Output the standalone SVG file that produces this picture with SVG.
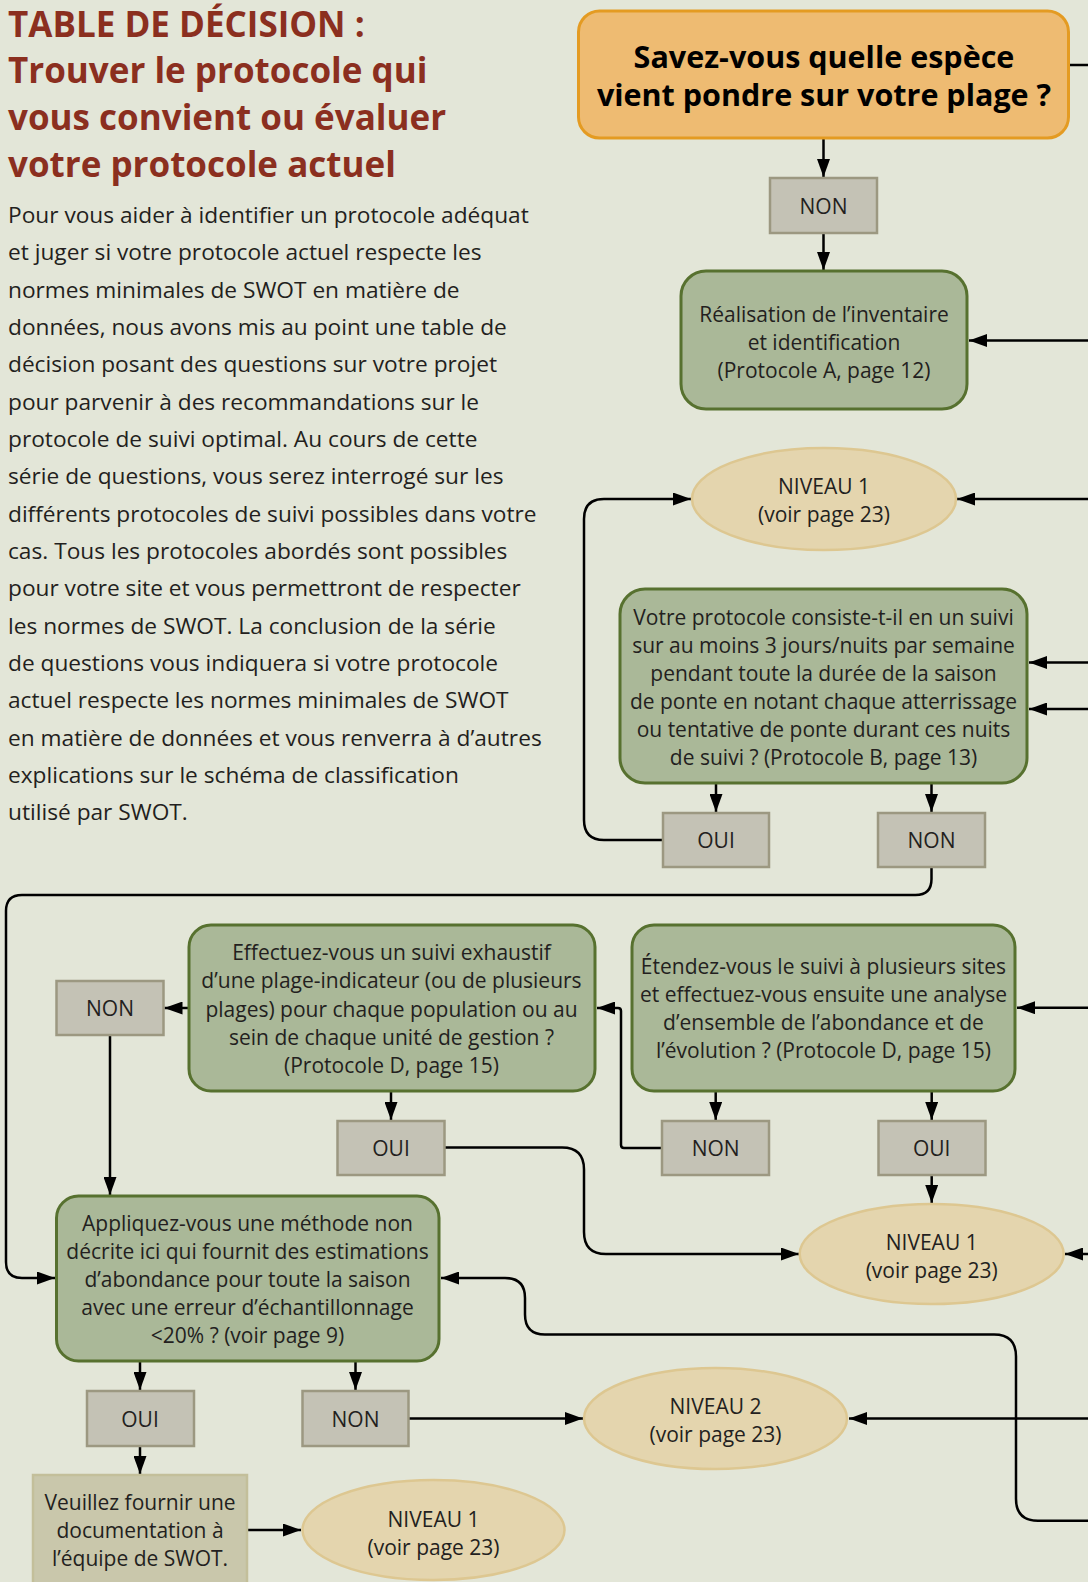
<svg xmlns="http://www.w3.org/2000/svg" width="1088" height="1582" viewBox="0 0 1088 1582">
<defs>
<marker id="ah" markerUnits="userSpaceOnUse" markerWidth="18" markerHeight="13" refX="18" refY="6.5" orient="auto"><path d="M0,0 L18,6.5 L0,13 z" fill="#000"/></marker>
<style>
.title{font-family:"Open Sans","Noto Sans",sans-serif;font-weight:700;font-size:35px;fill:#8B2F1F}
.para{font-family:"Open Sans","Noto Sans",sans-serif;font-size:22.7px;fill:#231F20}
.t{font-family:"Open Sans","Noto Sans",sans-serif;font-size:21px;fill:#231F20;text-anchor:middle}
.tb{font-family:"Open Sans","Noto Sans",sans-serif;font-weight:700;font-size:30.5px;fill:#000;text-anchor:middle}
.orange{fill:#EEBB72;stroke:#E49B22;stroke-width:3}
.green{fill:#AAB898;stroke:#57712F;stroke-width:3}
.grey{fill:#C4C2B5;stroke:#9C9881;stroke-width:2.5}
.level{fill:#E4D5AE;stroke:#DDC791;stroke-width:2.5}
.doc{fill:#C9C7AB;stroke:#C3BF9A;stroke-width:2.5}
.c{fill:none;stroke:#000;stroke-width:2.5}
.a{marker-end:url(#ah)}
</style>
</defs>
<rect x="0" y="0" width="1088" height="1582" fill="#E3E6D8"/>

<g id="heading">
<text class="title" x="8" y="36.7">TABLE DE DÉCISION :</text>
<text class="title" x="8" y="83.3">Trouver le protocole qui</text>
<text class="title" x="8" y="130">vous convient ou évaluer</text>
<text class="title" x="8" y="176.5">votre protocole actuel</text>
</g>

<g id="intro">
<text class="para" x="8" y="223">Pour vous aider à identifier un protocole adéquat</text>
<text class="para" x="8" y="260.3">et juger si votre protocole actuel respecte les</text>
<text class="para" x="8" y="297.7">normes minimales de SWOT en matière de</text>
<text class="para" x="8" y="335">données, nous avons mis au point une table de</text>
<text class="para" x="8" y="372.4">décision posant des questions sur votre projet</text>
<text class="para" x="8" y="409.7">pour parvenir à des recommandations sur le</text>
<text class="para" x="8" y="447">protocole de suivi optimal. Au cours de cette</text>
<text class="para" x="8" y="484.4">série de questions, vous serez interrogé sur les</text>
<text class="para" x="8" y="521.7">différents protocoles de suivi possibles dans votre</text>
<text class="para" x="8" y="559.1">cas. Tous les protocoles abordés sont possibles</text>
<text class="para" x="8" y="596.4">pour votre site et vous permettront de respecter</text>
<text class="para" x="8" y="633.7">les normes de SWOT. La conclusion de la série</text>
<text class="para" x="8" y="671.1">de questions vous indiquera si votre protocole</text>
<text class="para" x="8" y="708.4">actuel respecte les normes minimales de SWOT</text>
<text class="para" x="8" y="745.8">en matière de données et vous renverra à d’autres</text>
<text class="para" x="8" y="783.1">explications sur le schéma de classification</text>
<text class="para" x="8" y="820.4">utilisé par SWOT.</text>
</g>

<g id="connectors">
<path class="c" d="M1069,65 H1088"/>
<path class="c a" d="M823.5,138 V177"/>
<path class="c a" d="M823.5,233 V270"/>
<path class="c a" d="M1088,340.5 H969"/>
<path class="c a" d="M1088,499 H957"/>
<path class="c a" d="M663,840 H604 Q584,840 584,820 V519 Q584,499 604,499 H691"/>
<path class="c a" d="M1088,662.5 H1029"/>
<path class="c a" d="M1088,709 H1029"/>
<path class="c a" d="M716,783 V812"/>
<path class="c a" d="M931.5,783 V812"/>
<path class="c a" d="M931.5,867 V879 Q931.5,895 915.5,895 H22 Q6,895 6,911 V1262 Q6,1278 22,1278 H55"/>
<path class="c a" d="M1088,1007.7 H1017"/>
<path class="c a" d="M189,1008 H164.5"/>
<path class="c a" d="M662,1148 H624 Q621,1148 621,1145 V1011 Q621,1008 618,1008 H597"/>
<path class="c a" d="M391,1091 V1120"/>
<path class="c a" d="M715.7,1091 V1120"/>
<path class="c a" d="M931.7,1091 V1120"/>
<path class="c a" d="M931.7,1175 V1203"/>
<path class="c a" d="M445,1147.5 H562 Q584,1147.5 584,1169.5 V1232 Q584,1254 606,1254 H799"/>
<path class="c a" d="M1088,1254 H1065"/>
<path class="c a" d="M110,1035 V1195"/>
<path class="c a" d="M1088,1520.7 H1038 Q1016,1520.7 1016,1498.7 V1356.5 Q1016,1334.5 994,1334.5 H545 Q525,1334.5 525,1314.5 V1298 Q525,1278 505,1278 H441"/>
<path class="c a" d="M140,1361 V1390"/>
<path class="c a" d="M355.5,1361 V1390"/>
<path class="c a" d="M408.5,1418.5 H583"/>
<path class="c a" d="M1088,1418.5 H849"/>
<path class="c a" d="M140,1446 V1474"/>
<path class="c a" d="M247,1530 H301"/>
</g>

<g id="q-espece">
<rect class="orange" x="578.5" y="11" width="490" height="127" rx="21"/>
<text class="tb" x="824" y="68">Savez-vous quelle espèce</text>
<text class="tb" x="824" y="106">vient pondre sur votre plage ?</text>
</g>

<g id="non-espece">
<rect class="grey" x="770" y="178" width="107" height="55"/>
<text class="t" x="823.5" y="213.5">NON</text>
</g>

<g id="inventaire">
<rect class="green" x="681" y="271" width="286" height="138" rx="25"/>
<text class="t" x="824" y="321.7">Réalisation de l’inventaire</text>
<text class="t" x="824" y="350">et identification</text>
<text class="t" x="824" y="378">(Protocole A, page 12)</text>
</g>

<g id="niveau1-a">
<ellipse class="level" cx="824" cy="499" rx="132" ry="51"/>
<text class="t" x="824" y="494">NIVEAU 1</text>
<text class="t" x="824" y="522">(voir page 23)</text>
</g>

<g id="q-protocole-b">
<rect class="green" x="620" y="589" width="407" height="194" rx="25"/>
<text class="t" x="823.5" y="625">Votre protocole consiste-t-il en un suivi</text>
<text class="t" x="823.5" y="653">sur au moins 3 jours/nuits par semaine</text>
<text class="t" x="823.5" y="681">pendant toute la durée de la saison</text>
<text class="t" x="823.5" y="709">de ponte en notant chaque atterrissage</text>
<text class="t" x="823.5" y="737">ou tentative de ponte durant ces nuits</text>
<text class="t" x="823.5" y="765">de suivi ? (Protocole B, page 13)</text>
</g>

<g id="oui-b">
<rect class="grey" x="663" y="813" width="106" height="54"/>
<text class="t" x="716" y="848">OUI</text>
</g>

<g id="non-b">
<rect class="grey" x="878" y="813" width="107" height="54"/>
<text class="t" x="931.5" y="848">NON</text>
</g>

<g id="q-plage-indicateur">
<rect class="green" x="189" y="925" width="406" height="166" rx="22"/>
<text class="t" x="391.5" y="960">Effectuez-vous un suivi exhaustif</text>
<text class="t" x="391.5" y="988">d’une plage-indicateur (ou de plusieurs</text>
<text class="t" x="391.5" y="1016.5">plages) pour chaque population ou au</text>
<text class="t" x="391.5" y="1045">sein de chaque unité de gestion ?</text>
<text class="t" x="391.5" y="1072.5">(Protocole D, page 15)</text>
</g>

<g id="q-plusieurs-sites">
<rect class="green" x="632" y="925" width="383" height="166" rx="22"/>
<text class="t" x="823.5" y="974">Étendez-vous le suivi à plusieurs sites</text>
<text class="t" x="823.5" y="1002">et effectuez-vous ensuite une analyse</text>
<text class="t" x="823.5" y="1030">d’ensemble de l’abondance et de</text>
<text class="t" x="823.5" y="1058">l’évolution ? (Protocole D, page 15)</text>
</g>

<g id="non-indicateur">
<rect class="grey" x="56.5" y="981" width="107" height="54"/>
<text class="t" x="110" y="1016">NON</text>
</g>

<g id="oui-indicateur">
<rect class="grey" x="337.5" y="1121" width="107" height="54"/>
<text class="t" x="391" y="1156">OUI</text>
</g>

<g id="non-sites">
<rect class="grey" x="662" y="1121" width="107" height="54"/>
<text class="t" x="715.7" y="1156">NON</text>
</g>

<g id="oui-sites">
<rect class="grey" x="878.5" y="1121" width="107" height="54"/>
<text class="t" x="931.7" y="1156">OUI</text>
</g>

<g id="niveau1-b">
<ellipse class="level" cx="931.7" cy="1254" rx="132" ry="50"/>
<text class="t" x="931.7" y="1250">NIVEAU 1</text>
<text class="t" x="931.7" y="1278">(voir page 23)</text>
</g>

<g id="q-autre-methode">
<rect class="green" x="56.5" y="1196" width="382.5" height="165" rx="22"/>
<text class="t" x="247.5" y="1231">Appliquez-vous une méthode non</text>
<text class="t" x="247.5" y="1259">décrite ici qui fournit des estimations</text>
<text class="t" x="247.5" y="1287">d’abondance pour toute la saison</text>
<text class="t" x="247.5" y="1315">avec une erreur d’échantillonnage</text>
<text class="t" x="247.5" y="1343">&lt;20% ? (voir page 9)</text>
</g>

<g id="oui-methode">
<rect class="grey" x="87" y="1391" width="107" height="55"/>
<text class="t" x="140" y="1426.5">OUI</text>
</g>

<g id="non-methode">
<rect class="grey" x="302.5" y="1391" width="106" height="55"/>
<text class="t" x="355.5" y="1426.5">NON</text>
</g>

<g id="niveau2">
<ellipse class="level" cx="715.5" cy="1418.5" rx="131.5" ry="50.5"/>
<text class="t" x="715.5" y="1413.5">NIVEAU 2</text>
<text class="t" x="715.5" y="1441.5">(voir page 23)</text>
</g>

<g id="documentation">
<rect class="doc" x="33" y="1475" width="214" height="120"/>
<text class="t" x="140" y="1510">Veuillez fournir une</text>
<text class="t" x="140" y="1538">documentation à</text>
<text class="t" x="140" y="1566">l’équipe de SWOT.</text>
</g>

<g id="niveau1-c">
<ellipse class="level" cx="433.5" cy="1530" rx="131" ry="50"/>
<text class="t" x="433.5" y="1526.5">NIVEAU 1</text>
<text class="t" x="433.5" y="1555">(voir page 23)</text>
</g>
</svg>
